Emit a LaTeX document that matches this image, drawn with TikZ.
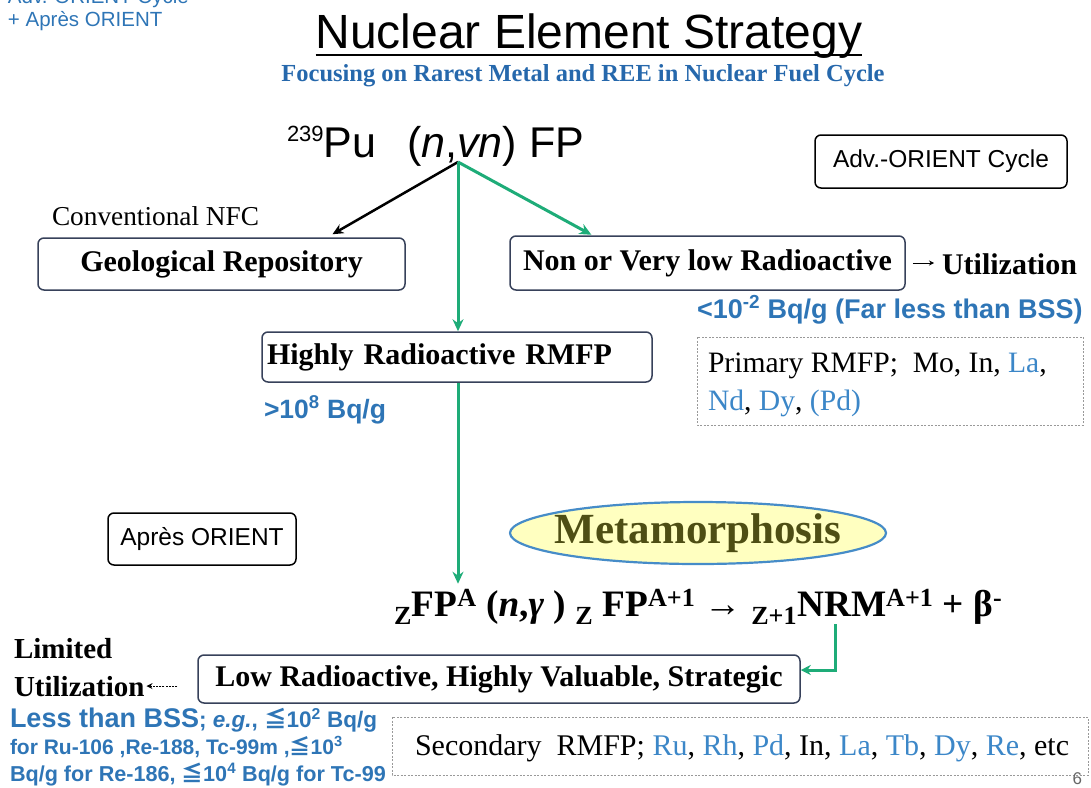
\documentclass[tikz,border=0pt]{standalone}
\usepackage{fontspec}
\setmainfont{Liberation Serif}
\setsansfont{Liberation Sans}
\newfontfamily\cjk{Noto Sans CJK JP}
\usetikzlibrary{shapes.geometric,arrows.meta,calc}
\definecolor{tblue}{RGB}{46,117,182}
\definecolor{subblue}{RGB}{38,104,172}
\definecolor{elblue}{RGB}{60,135,200}
\definecolor{tgreen}{RGB}{30,172,120}
\definecolor{boxline}{RGB}{55,65,90}
\definecolor{metatext}{RGB}{78,78,20}
\definecolor{metafill}{RGB}{255,255,192}
\definecolor{metaline}{RGB}{70,140,200}
\newcommand{\fs}[1]{\fontsize{#1}{#1}\selectfont}
\newcommand{\leqj}{{\cjk ≦}}
\begin{document}
\begin{tikzpicture}[x=1pt,y=-1pt,
  txt/.style={inner sep=0pt, outer sep=0pt},
  rbox/.style={draw=boxline, line width=1.5pt, rounded corners=6pt, fill=white, inner sep=0pt, font=\fs{30}\bfseries},
  sbox/.style={draw=black, line width=1.5pt, rounded corners=6pt, fill=white, inner sep=0pt, font=\sffamily\fs{24.5}},
  dbox/.style={draw=gray!80, line width=0.8pt, dash pattern=on 2pt off 1.5pt},
  garrow/.style={draw=tgreen, line width=3pt, -{Stealth[length=12pt,width=11pt]}},
  barrow/.style={draw=black, line width=2.5pt, -{Stealth[length=11pt,width=10pt]}}]
\useasboundingbox (0,0) rectangle (1091,787);
\clip (0,0) rectangle (1091,787);

% top-left labels
\node[txt, anchor=base west, text=tblue, font=\sffamily\fs{20.5}] (advtl) at (8,3) {Adv.-ORIENT Cycle};
\node[txt, anchor=base west, text=tblue, font=\sffamily\fs{20.5}] (aprtl) at (8,27) {+ Après ORIENT};

% title
\node[txt, anchor=base, font=\sffamily\fs{48}] (title) at (589,48) {Nuclear Element Strategy};
\draw[line width=2pt] (title.base west) ++(0,7) -- ($(title.base east)+(0,7)$);
\node[txt, anchor=base, text=subblue, font=\fs{24.5}\bfseries] (subtitle) at (583,81) {Focusing on Rarest Metal and REE in Nuclear Fuel Cycle};

% source
\node[txt, anchor=base west, font=\sffamily\fs{43}] (pu) at (287,157) {\raisebox{16pt}{\fs{22}239}Pu\hspace{31pt}(\textit{n},\textit{vn}) FP};
\coordinate (src) at (458,162);

% boxes
\node[rbox, minimum width=367pt, minimum height=52pt] (geo) at (221.5,264) {Geological Repository};
\node[rbox, minimum width=395pt, minimum height=54pt] (non) at (707.5,263) {Non or Very low Radioactive};
\node[rbox, minimum height=50pt, inner xsep=5pt, text width=380pt, align=left] (high) at (457,357) {Highly Radioactive RMFP};
\node[sbox, minimum width=252pt, minimum height=53pt] (adv) at (941,161.5) {Adv.-ORIENT Cycle};
\node[sbox, minimum width=188pt, minimum height=52pt] (apres) at (202,539) {Après ORIENT};
\node[rbox, minimum width=602pt, minimum height=48pt] (low) at (499,679) {Low Radioactive, Highly Valuable, Strategic};

% labels
\node[txt, anchor=base west, font=\fs{27.3}] (conv) at (52,225) {Conventional NFC};
\node[txt, anchor=base west, font=\fs{30}\bfseries] (util) at (942,274) {Utilization};
\node[txt, anchor=base west, text=tblue, font=\sffamily\bfseries\fs{27}] (bss1) at (697,318) {<10\textsuperscript{-2} Bq/g (Far less than BSS)};
\node[txt, anchor=base west, text=tblue, font=\sffamily\bfseries\fs{26.5}] (high8) at (264,418) {>10\textsuperscript{8} Bq/g};

% primary RMFP
\draw[dbox] (697,337) rectangle (1083,425);
\node[txt, anchor=base west, font=\fs{29.6}] (prim1) at (708,372) {Primary RMFP;\ \ Mo, In, \textcolor{elblue}{La},};
\node[txt, anchor=base west, font=\fs{29.6}] (prim2) at (708,410) {\textcolor{elblue}{Nd}, \textcolor{elblue}{Dy}, \textcolor{elblue}{(Pd)}};

% metamorphosis
\node[ellipse, draw=metaline, line width=2.2pt, fill=metafill, minimum width=376pt, minimum height=62pt, inner sep=0pt] (meta) at (698,533) {};
\node[txt, text=metatext, font=\fs{43}\bfseries] (metatxt) at (meta.center) {Metamorphosis};

% equation
\node[txt, anchor=base west, font=\fs{37.3}\bfseries] (eq) at (394,616) {\textsubscript{Z}FP\textsuperscript{A} (\textit{n},\textit{γ} ) \textsubscript{Z} FP\textsuperscript{A+1} → \textsubscript{Z+1}NRM\textsuperscript{A+1} + β\textsuperscript{-}};
\coordinate (nrm) at (835,624);

% bottom-left
\node[txt, anchor=base west, font=\fs{29}\bfseries] (lim) at (14,658) {Limited};
\node[txt, anchor=base west, font=\fs{29}\bfseries] (utilL) at (14,696) {Utilization};
\node[txt, anchor=base west, text=tblue, font=\sffamily\bfseries] (less1) at (10,727) {\fs{27}Less than BSS\fs{22.5}; \textit{e.g.}, \leqj 10\textsuperscript{2} Bq/g};
\node[txt, anchor=base west, text=tblue, font=\sffamily\bfseries\fs{21}] (less2) at (10,754) {for Ru-106 ,Re-188, Tc-99m ,\leqj 10\textsuperscript{3}};
\node[txt, anchor=base west, text=tblue, font=\sffamily\bfseries\fs{21.6}] (less3) at (10,781) {Bq/g for Re-186, \leqj 10\textsuperscript{4} Bq/g for Tc-99};

% secondary RMFP
\draw[dbox] (392,717) rectangle (1088,775);
\node[txt, anchor=base west, font=\fs{30}] (sec) at (415,755) {Secondary\ \ RMFP; \textcolor{elblue}{Ru}, \textcolor{elblue}{Rh}, \textcolor{elblue}{Pd}, In, \textcolor{elblue}{La}, \textcolor{elblue}{Tb}, \textcolor{elblue}{Dy}, \textcolor{elblue}{Re}, etc};
\node[txt, anchor=base east, text=gray!80!black, font=\sffamily\fs{17}] (pg) at (1082,784) {6};

% connectors
\draw[barrow, shorten >=6pt] (src) -- ($(geo.north west)+(290,0)$);
\draw[garrow, shorten >=1pt] (src) -- ($(non.north west)+(83,0)$);
\draw[garrow] (src) -- (src |- high.north);
\draw[garrow, shorten >=6pt] (src |- high.south) -- (src |- eq.north);
\draw[draw=tgreen, line width=3pt, -{Stealth[length=10pt,width=10pt]}] (nrm) |- ($(low.east)+(0,-9)$);
\draw[line width=0.9pt, -{Stealth[length=5pt,width=5pt]}, shorten <=7pt, shorten >=8pt] (non.east) -- (non.east -| util.west);
\draw[line width=1pt, dash pattern=on 2pt off 1.2pt, -{Stealth[length=6pt,width=6pt]}, shorten <=20pt, shorten >=2pt] (low.west |- utilL.east) -- (utilL.east);
\end{tikzpicture}
\end{document}
